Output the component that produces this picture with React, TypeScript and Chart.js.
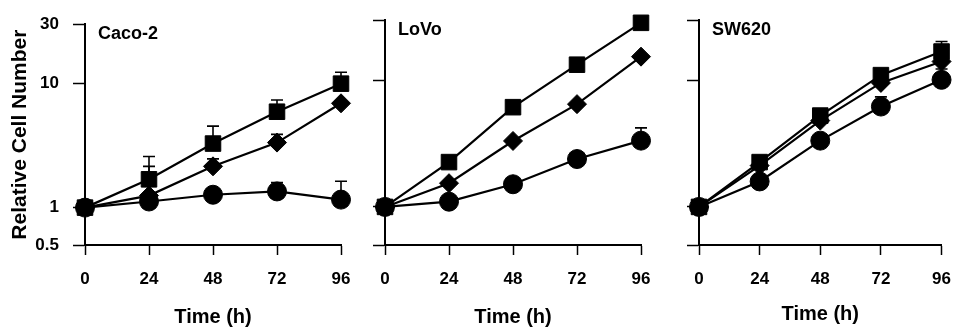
import React, { useEffect, useRef } from 'react';
import { Chart, registerables } from 'chart.js';

Chart.register(...registerables);

// ---- data ----
const hours = [0, 24, 48, 72, 96];
const yTickValues = [0.5, 1, 10, 30];
const panelNames = ['Caco-2', 'LoVo', 'SW620'];

const cacoSquare = [1, 1.69, 3.28, 5.92, 9.96];
const cacoSquareErr = [null, 2.58, 4.53, 7.36, 12.3];
const cacoDiamond = [1, 1.25, 2.15, 3.34, 6.92];
const cacoDiamondErr = [null, 2.15, 2.47, 3.89, null];
const cacoCircle = [1, 1.12, 1.27, 1.35, 1.16];
const cacoCircleErr = [null, null, null, 1.59, 1.63];

const lovoSquare = [1, 2.26, 6.14, 13.3, 28.5];
const lovoSquareErr = [null, null, null, null, null];
const lovoDiamond = [1, 1.54, 3.32, 6.49, 15.4];
const lovoDiamondErr = [null, null, null, null, null];
const lovoCircle = [1, 1.1, 1.51, 2.39, 3.34];
const lovoCircleErr = [null, null, null, null, 4.21];

const swSquare = [1, 2.26, 5.27, 11.0, 16.9];
const swSquareErr = [null, null, null, null, 20.3];
const swDiamond = [1, 2.12, 4.81, 9.55, 14.1];
const swDiamondErr = [null, null, null, null, null];
const swCircle = [1, 1.59, 3.34, 6.21, 10.1];
const swCircleErr = [null, null, null, 7.4, 12.3];

const panelSeries = [
  { circle: cacoCircle, diamond: cacoDiamond, square: cacoSquare, circleErr: cacoCircleErr, diamondErr: cacoDiamondErr, squareErr: cacoSquareErr },
  { circle: lovoCircle, diamond: lovoDiamond, square: lovoSquare, circleErr: lovoCircleErr, diamondErr: lovoDiamondErr, squareErr: lovoSquareErr },
  { circle: swCircle, diamond: swDiamond, square: swSquare, circleErr: swCircleErr, diamondErr: swDiamondErr, squareErr: swSquareErr },
];

// ---- layout (pixel positions of each panel's plot area) ----
const W = 965;
const H = 329;
const panelLayout = [
  { left: 85, right: 341, showY: true, titleBottom: 0 },
  { left: 385, right: 641, showY: false, titleBottom: 0 },
  { left: 699, right: 955, showY: false, titleBottom: 3 },
];
const plotTop = 20;
const plotBottom = 245;

const FONT = '"Liberation Sans", Arial, Helvetica, sans-serif';

const errorBarPlugin = {
  id: 'errorBars',
  beforeDatasetsDraw(chart: any, _args: any, opts: any) {
    const errs: (number | null)[][] = opts.errs || [];
    const ctx = chart.ctx;
    const yScale = chart.scales.y;
    ctx.save();
    ctx.strokeStyle = '#000';
    ctx.lineWidth = 1.6;
    errs.forEach((arr, di) => {
      const meta = chart.getDatasetMeta(di);
      arr.forEach((e, i) => {
        if (e == null) return;
        const pt = meta.data[i];
        if (!pt) return;
        const yTop = yScale.getPixelForValue(e);
        ctx.beginPath();
        ctx.moveTo(pt.x, pt.y);
        ctx.lineTo(pt.x, yTop);
        ctx.moveTo(pt.x - 6, yTop);
        ctx.lineTo(pt.x + 6, yTop);
        ctx.stroke();
      });
    });
    ctx.restore();
  },
};

const panelLabelPlugin = {
  id: 'panelLabel',
  afterDraw(chart: any, _args: any, opts: any) {
    const { ctx, chartArea } = chart;
    ctx.save();
    ctx.fillStyle = '#000';
    ctx.font = `bold 18px ${FONT}`;
    ctx.textAlign = 'left';
    ctx.textBaseline = 'middle';
    ctx.fillText(opts.text || '', chartArea.left + 13, chartArea.top + 10);
    ctx.restore();
  },
};

function makeConfig(p: number) {
  const s = panelSeries[p];
  const lay = panelLayout[p];
  const yWidth = lay.showY ? lay.left : 20;
  const common = {
    borderColor: '#000',
    backgroundColor: '#000',
    pointBackgroundColor: '#000',
    pointBorderColor: '#000',
    borderWidth: 2.2,
    pointBorderWidth: 1,
    clip: false as any,
  };
  return {
    type: 'line' as const,
    data: {
      labels: hours,
      datasets: [
        { ...common, label: 'circle', data: hours.map((h, i) => ({ x: h, y: s.circle[i] })), pointStyle: 'circle', pointRadius: 9.5 },
        { ...common, label: 'diamond', data: hours.map((h, i) => ({ x: h, y: s.diamond[i] })), pointStyle: 'rectRot', pointRadius: 9.5 },
        { ...common, label: 'square', data: hours.map((h, i) => ({ x: h, y: s.square[i] })), pointStyle: 'rect', pointRadius: 11 },
      ],
    },
    options: {
      responsive: false,
      animation: false as const,
      devicePixelRatio: 1,
      layout: {
        padding: {
          left: lay.showY ? 0 : lay.left - yWidth,
          right: W - lay.right,
          top: plotTop,
          bottom: 0,
        },
      },
      plugins: {
        legend: { display: false },
        tooltip: { enabled: false },
        title: { display: false },
        errorBars: { errs: [s.circleErr, s.diamondErr, s.squareErr] },
        panelLabel: { text: panelNames[p] },
      },
      scales: {
        x: {
          type: 'linear' as const,
          min: 0,
          max: 96,
          afterBuildTicks: (scale: any) => {
            scale.ticks = hours.map((v) => ({ value: v }));
          },
          afterFit: (scale: any) => {
            scale.height = H - plotBottom;
          },
          grid: {
            drawOnChartArea: false,
            drawTicks: true,
            tickLength: 10,
            tickWidth: 1.5,
            tickColor: '#000',
            color: '#000',
          },
          border: { display: true, color: '#000', width: 2 },
          ticks: {
            color: '#000',
            padding: 14,
            maxRotation: 0,
            autoSkip: false,
            font: { family: FONT, size: 17, weight: 'bold' as const },
            callback: (v: any) => String(v),
          },
          title: {
            display: true,
            text: 'Time (h)',
            color: '#000',
            font: { family: FONT, size: 20, weight: 'bold' as const },
            padding: { top: 0, bottom: lay.titleBottom },
          },
        },
        y: {
          type: 'logarithmic' as const,
          min: 0.5,
          max: 30,
          afterBuildTicks: (scale: any) => {
            scale.ticks = yTickValues.map((v) => ({ value: v }));
          },
          afterFit: (scale: any) => {
            scale.width = yWidth;
          },
          grid: {
            drawOnChartArea: false,
            drawTicks: true,
            tickLength: 12,
            tickWidth: 1.5,
            tickColor: '#000',
            color: '#000',
          },
          border: { display: true, color: '#000', width: 2 },
          ticks: {
            display: lay.showY,
            color: '#000',
            padding: 14,
            autoSkip: false,
            font: { family: FONT, size: 17, weight: 'bold' as const },
            callback: (v: any) => String(v),
          },
          title: {
            display: lay.showY,
            text: 'Relative Cell Number',
            color: '#000',
            font: { family: FONT, size: 21, weight: 'bold' as const },
            padding: { top: 8, bottom: 0 },
          },
        },
      },
    },
    plugins: [errorBarPlugin, panelLabelPlugin],
  };
}

function Panel({ index }: { index: number }) {
  const ref = useRef<HTMLCanvasElement | null>(null);
  useEffect(() => {
    if (!ref.current) return;
    const chart = new Chart(ref.current, makeConfig(index) as any);
    return () => chart.destroy();
  }, [index]);
  return (
    <canvas
      ref={ref}
      width={W}
      height={H}
      style={{ position: 'absolute', left: 0, top: 0, width: W, height: H }}
    />
  );
}

export default function App() {
  return (
    <div style={{ position: 'fixed', left: 0, top: 0, width: W, height: H, background: '#fff' }}>
      {panelNames.map((_, i) => (
        <Panel key={i} index={i} />
      ))}
    </div>
  );
}
